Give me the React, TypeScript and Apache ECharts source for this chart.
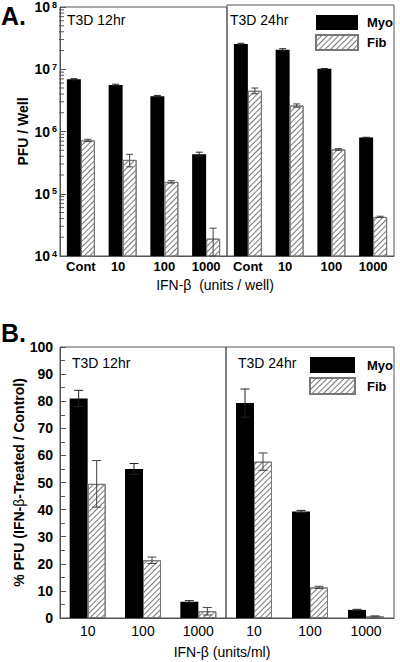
import { useEffect, useRef } from 'react';
import * as echarts from 'echarts';

const FONT = '"Liberation Sans", Arial, Helvetica, sans-serif';

// Panel A (log scale, PFU / well)
const catsA = ['Cont', '10', '100', '1000'];
const myoA12 = [6.9e6, 5.6e6, 3.7e6, 4.3e5];
const myoA12Err = [0.15e6, 0.15e6, 0.1e6, 0.35e5];
const fibA12 = [7.2e5, 3.5e5, 1.55e5, 1.9e4];
const fibA12Err = [0.3e5, 0.8e5, 0.07e5, 0.9e4];
const myoA24 = [2.4e7, 1.93e7, 9.6e6, 7.7e5];
const myoA24Err = [0.05e7, 0.08e7, 0.1e6, 0.1e5];
const fibA24 = [4.3e6, 2.5e6, 5.0e5, 4.2e4];
const fibA24Err = [0.45e6, 0.15e6, 0.15e5, 0.1e4];

// Panel B (% of control)
const catsB = ['10', '100', '1000'];
const myoB12 = [81, 55, 6];
const myoB12Err = [3, 2, 0.4];
const fibB12 = [49.5, 21.3, 2.5];
const fibB12Err = [8.6, 1.2, 1.4];
const myoB24 = [79.3, 39.3, 3.0];
const myoB24Err = [5.2, 0.4, 0.2];
const fibB24 = [57.7, 11.3, 0.6];
const fibB24Err = [3.2, 0.4, 0.2];

// log axis minor tick structure (decades 10^4..10^7, multipliers 2..9)
const decadesA = [1e4, 1e5, 1e6, 1e7];
const minorMultipliers = [2, 3, 4, 5, 6, 7, 8, 9];
const minorTicksA: number[] = [];
decadesA.forEach((d) => minorMultipliers.forEach((m) => minorTicksA.push(m * d)));

const AXIS = '#555';
const hatch = {
  symbol: 'rect',
  symbolSize: 1,
  color: '#777',
  dashArrayX: [1, 0],
  dashArrayY: [1, 2.5],
  rotation: -Math.PI / 4,
};

function barPair(xi: number, yi: number, myo: number[], fib: number[], w: number) {
  return [
    {
      type: 'bar', name: 'Myo', xAxisIndex: xi, yAxisIndex: yi, data: myo,
      barWidth: w, barGap: '0%', itemStyle: { color: '#000' },
    },
    {
      type: 'bar', name: 'Fib', xAxisIndex: xi, yAxisIndex: yi, data: fib,
      barWidth: w, barGap: '0%',
      itemStyle: { color: '#fff', borderColor: '#777', borderWidth: 1, decal: hatch },
    },
  ];
}

function errSeries(xi: number, yi: number, vals: number[], errs: number[], offset: number, cap: number, color: string) {
  return {
    type: 'custom', xAxisIndex: xi, yAxisIndex: yi, silent: true, z: 5,
    data: vals.map((v, i) => [i, v, errs[i]]),
    encode: { x: 0, y: 1 },
    renderItem: (params: any, api: any) => {
      const i = api.value(0), v = api.value(1), e = api.value(2);
      const hi = api.coord([i, v + e]);
      const lo = api.coord([i, v - e]);
      const x = hi[0] + offset;
      const st = { stroke: color, lineWidth: 1 };
      return {
        type: 'group',
        children: [
          { type: 'line', shape: { x1: x, y1: hi[1], x2: x, y2: lo[1] }, style: st },
          { type: 'line', shape: { x1: x - cap / 2, y1: hi[1], x2: x + cap / 2, y2: hi[1] }, style: st },
          { type: 'line', shape: { x1: x - cap / 2, y1: lo[1], x2: x + cap / 2, y2: lo[1] }, style: st },
        ],
      };
    },
  };
}

const xLabelA = {
  fontFamily: FONT, fontSize: 13, fontWeight: 'bold', color: '#000', margin: 4,
  formatter: (v: string) => (v === '10' ? '{l|10}' : v),
  rich: { l: { fontFamily: FONT, fontSize: 13, fontWeight: 'bold', padding: [0, 9, 0, 0] } },
};
const xLabelB = { fontFamily: FONT, fontSize: 14, color: '#000', margin: 6 };

const option: any = {
  animation: false,
  textStyle: { fontFamily: FONT },
  grid: [
    { left: 60, top: 5, width: 167, height: 251, show: true, borderColor: AXIS, borderWidth: 1 },
    { left: 227, top: 5, width: 167, height: 251, show: true, borderColor: AXIS, borderWidth: 1 },
    { left: 60, top: 347, width: 166, height: 271, show: true, borderColor: AXIS, borderWidth: 1 },
    { left: 226, top: 347, width: 168, height: 271, show: true, borderColor: AXIS, borderWidth: 1 },
  ],
  xAxis: [
    {
      type: 'category', gridIndex: 0, data: catsA,
      axisLine: { lineStyle: { color: AXIS } }, axisTick: { show: false }, axisLabel: xLabelA,
      name: 'IFN-β  (units / well)', nameLocation: 'middle', nameGap: 22,
      nameTextStyle: { fontFamily: FONT, fontSize: 14, color: '#000', padding: [0, 0, 0, 143] },
    },
    {
      type: 'category', gridIndex: 1, data: catsA,
      axisLine: { lineStyle: { color: AXIS } }, axisTick: { show: false }, axisLabel: xLabelA,
    },
    {
      type: 'category', gridIndex: 2, data: catsB,
      axisLine: { lineStyle: { color: AXIS } }, axisTick: { show: false }, axisLabel: xLabelB,
      name: 'IFN-β (units/ml)', nameLocation: 'middle', nameGap: 27,
      nameTextStyle: { fontFamily: FONT, fontSize: 14, color: '#000', padding: [0, 0, 0, 158] },
    },
    {
      type: 'category', gridIndex: 3, data: catsB,
      axisLine: { lineStyle: { color: AXIS } }, axisTick: { show: false }, axisLabel: xLabelB,
    },
  ],
  yAxis: [
    {
      type: 'log', gridIndex: 0, min: 1e4, max: 1e8, logBase: 10,
      axisLine: { show: true, lineStyle: { color: AXIS } },
      axisTick: { show: true, inside: true, length: 6, lineStyle: { color: AXIS } },
      splitLine: { show: false },
      axisLabel: {
        margin: 3,
        formatter: (v: number) => `{b|10}{s|${Math.round(Math.log10(v))}}`,
        rich: {
          b: { fontFamily: FONT, fontSize: 14, fontWeight: 'bold', color: '#000', lineHeight: 14, verticalAlign: 'bottom' },
          s: { fontFamily: FONT, fontSize: 9, fontWeight: 'bold', color: '#000', lineHeight: 10, verticalAlign: 'top', padding: [0, 0, 0, 2] },
        },
      },
      name: 'PFU / Well', nameLocation: 'middle', nameGap: 30,
      nameTextStyle: { fontFamily: FONT, fontSize: 14, fontWeight: 'bold', color: '#000' },
    },
    { type: 'log', gridIndex: 1, min: 1e4, max: 1e8, logBase: 10, show: false, splitLine: { show: false } },
    {
      type: 'value', gridIndex: 2, min: 0, max: 100, interval: 10,
      axisLine: { show: true, lineStyle: { color: AXIS } },
      axisTick: { show: true, inside: true, length: 6, lineStyle: { color: AXIS } },
      minorTick: { show: true, splitNumber: 2, length: 5, lineStyle: { color: AXIS } },
      splitLine: { show: false },
      axisLabel: { fontFamily: FONT, fontSize: 14, fontWeight: 'bold', color: '#000', margin: 7 },
      name: '{b|% PFU (IFN-}{g|β}{b|-Treated / Control)}', nameLocation: 'middle', nameGap: 30,
      nameTextStyle: {
        rich: {
          b: { fontFamily: FONT, fontSize: 14, fontWeight: 'bold', color: '#000' },
          g: { fontFamily: FONT, fontSize: 14, color: '#000' },
        },
      },
    },
    { type: 'value', gridIndex: 3, min: 0, max: 100, interval: 10, show: false, splitLine: { show: false } },
  ],
  legend: [
    {
      data: ['Myo', 'Fib'], orient: 'vertical', left: 310, top: 10,
      itemWidth: 42, itemHeight: 15, itemGap: 4, icon: 'rect', selectedMode: false,
      textStyle: { fontFamily: FONT, fontSize: 13, fontWeight: 'bold', color: '#000', padding: [0, 0, 0, 4] },
    },
    {
      data: ['Myo', 'Fib'], orient: 'vertical', left: 304, top: 352,
      itemWidth: 45, itemHeight: 16, itemGap: 4, icon: 'rect', selectedMode: false,
      textStyle: { fontFamily: FONT, fontSize: 13, fontWeight: 'bold', color: '#000', padding: [0, 0, 0, 7] },
    },
  ],
  graphic: [
    { type: 'text', x: 1, y: 16, style: { text: 'A.', fontFamily: FONT, fontSize: 25, fontWeight: 'bold', fill: '#000', verticalAlign: 'middle' } },
    { type: 'text', x: 1, y: 333, style: { text: 'B.', fontFamily: FONT, fontSize: 25, fontWeight: 'bold', fill: '#000', verticalAlign: 'middle' } },
    { type: 'text', x: 67, y: 20, style: { text: 'T3D 12hr', fontFamily: FONT, fontSize: 14, fill: '#000', verticalAlign: 'middle' } },
    { type: 'text', x: 230, y: 20, style: { text: 'T3D 24hr', fontFamily: FONT, fontSize: 14, fill: '#000', verticalAlign: 'middle' } },
    { type: 'text', x: 72, y: 363, style: { text: 'T3D 12hr', fontFamily: FONT, fontSize: 14, fill: '#000', verticalAlign: 'middle' } },
    { type: 'text', x: 238, y: 363, style: { text: 'T3D 24hr', fontFamily: FONT, fontSize: 14, fill: '#000', verticalAlign: 'middle' } },
  ],
  series: [
    ...barPair(0, 0, myoA12, fibA12, 14),
    ...barPair(1, 1, myoA24, fibA24, 14),
    ...barPair(2, 2, myoB12, fibB12, 18),
    ...barPair(3, 3, myoB24, fibB24, 18),
    errSeries(0, 0, myoA12, myoA12Err, -7, 7, '#222'),
    errSeries(0, 0, fibA12, fibA12Err, 7, 7, '#444'),
    errSeries(1, 1, myoA24, myoA24Err, -7, 7, '#222'),
    errSeries(1, 1, fibA24, fibA24Err, 7, 7, '#444'),
    errSeries(2, 2, myoB12, myoB12Err, -9, 9, '#222'),
    errSeries(2, 2, fibB12, fibB12Err, 9, 9, '#444'),
    errSeries(3, 3, myoB24, myoB24Err, -9, 9, '#222'),
    errSeries(3, 3, fibB24, fibB24Err, 9, 9, '#444'),
    {
      type: 'custom', xAxisIndex: 0, yAxisIndex: 0, silent: true, z: 6,
      data: minorTicksA.map((v) => [0, v]),
      encode: { x: 0, y: 1 },
      renderItem: (params: any, api: any) => {
        const y = api.coord([0, api.value(1)])[1];
        const x0 = params.coordSys.x;
        return { type: 'line', shape: { x1: x0 - 1, y1: y, x2: x0 + 4, y2: y }, style: { stroke: AXIS, lineWidth: 1 } };
      },
    },
  ],
};

export default function App() {
  const ref = useRef<HTMLDivElement>(null);
  useEffect(() => {
    const chart = echarts.init(ref.current!, null, { renderer: 'svg' });
    chart.setOption(option);
    return () => chart.dispose();
  }, []);
  return <div ref={ref} style={{ position: 'absolute', left: 0, top: 0, width: 400, height: 662, background: '#fff' }} />;
}
